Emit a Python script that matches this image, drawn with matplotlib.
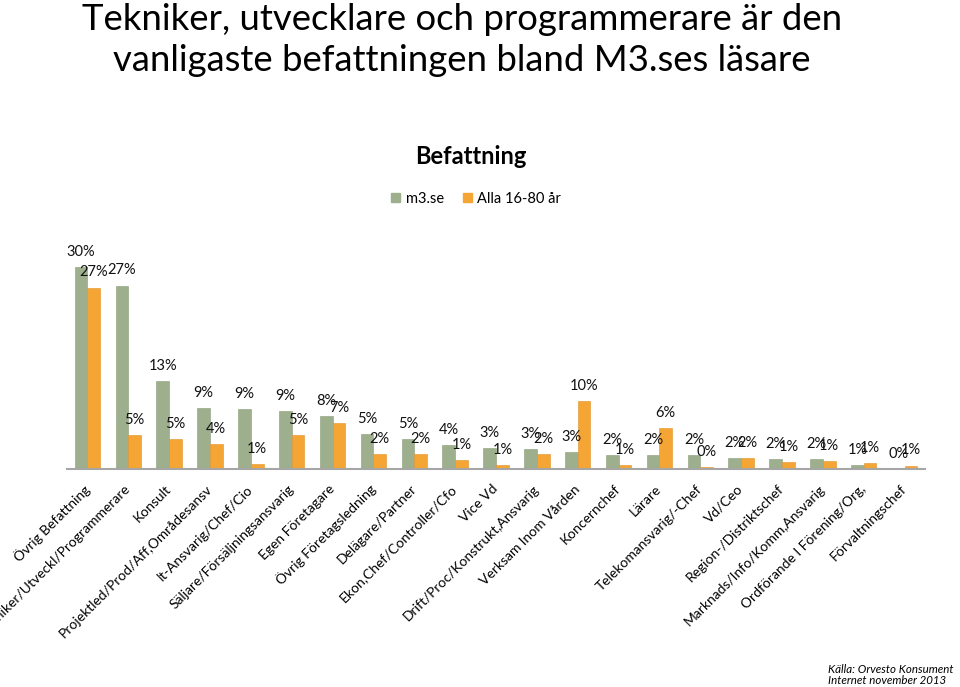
import matplotlib
matplotlib.use("Agg")
import matplotlib.pyplot as plt
import numpy as np
from matplotlib.patches import Patch

plt.rcParams['font.family'] = ['Lato', 'DejaVu Sans']

categories = [
    "Övrig Befattning", "Tekniker/Utveckl/Programmerare", "Konsult",
    "Projektled/Prod/Aff,Områdesansv", "It-Ansvarig/Chef/Cio",
    "Säljare/Försäljningsansvarig", "Egen Företagare", "Övrig Företagsledning",
    "Delägare/Partner", "Ekon,Chef/Controller/Cfo", "Vice Vd",
    "Drift/Proc/Konstrukt,Ansvarig", "Verksam Inom Vården", "Koncernchef",
    "Lärare", "Telekomansvarig/-Chef", "Vd/Ceo", "Region-/Distriktschef",
    "Marknads/Info/Komm,Ansvarig", "Ordförande I Förening/Org,",
    "Förvaltningschef",
]
m3_se = [30.1, 27.4, 13.1, 9.1, 8.9, 8.6, 7.9, 5.2, 4.5, 3.6, 3.1,
         3.0, 2.5, 2.1, 2.1, 2.1, 1.6, 1.5, 1.5, 0.6, 0.0]
alla = [27.1, 5.1, 4.5, 3.7, 0.7, 5.1, 6.8, 2.2, 2.2, 1.3, 0.6,
        2.2, 10.1, 0.6, 6.1, 0.3, 1.6, 1.0, 1.2, 0.9, 0.5]
series_names = ["m3.se", "Alla 16-80 år"]

GREEN = "#9DAF8D"
ORANGE = "#F4A534"

fig = plt.figure(figsize=(9.6, 6.87), dpi=100)
ax = fig.add_axes([67 / 960, 1 - 469 / 687, 858 / 960, 239 / 687])

x = np.arange(len(categories))
w = 0.31
b1 = ax.bar(x - w / 2, m3_se, w, color=GREEN, edgecolor="#8A9C7B", linewidth=0.4)
b2 = ax.bar(x + w / 2, alla, w, color=ORANGE, edgecolor="#E3922A", linewidth=0.4)

def lbl(v):
    return "%d%%" % int(v + 0.5)

for bars, vals in ((b1, m3_se), (b2, alla)):
    for r, v in zip(bars, vals):
        ax.annotate(lbl(v), (r.get_x() + r.get_width() / 2, v),
                    xytext=(0, 6), textcoords="offset points",
                    ha="center", va="bottom", fontsize=10.5, color="#111111")

ax.set_xlim(-0.5, len(categories) - 0.5)
ax.set_ylim(0, 35.7)
for s in ("top", "right", "left"):
    ax.spines[s].set_visible(False)
ax.spines["bottom"].set_color("#A6A6A6")
ax.spines["bottom"].set_linewidth(1.5)
ax.set_yticks([])
ax.set_xticks(x)
ax.set_xticklabels(categories, rotation=45, ha="right", va="center",
                   rotation_mode="anchor", fontsize=10)
ax.tick_params(axis="x", length=0, pad=13)

fig.text(0.481, 0.995, "Tekniker, utvecklare och programmerare är den\nvanligaste befattningen bland M3.ses läsare",
         ha="center", va="top", fontsize=26.3, linespacing=1.27)
fig.text(0.49, 1 - 157 / 687, "Befattning", ha="center", va="center",
         fontsize=17, fontweight="bold")

handles = [Patch(color=GREEN), Patch(color=ORANGE)]
fig.legend(handles, series_names, loc="center", bbox_to_anchor=(0.496, 1 - 199 / 687),
           ncol=2, frameon=False, fontsize=10.5, handlelength=0.6, handleheight=0.6,
           handletextpad=0.4, columnspacing=1.3)

fig.text(0.862, 1 - 675 / 687, "Källa: Orvesto Konsument\nInternet november 2013",
         ha="left", va="center", fontsize=8.3, style="italic", linespacing=1.05)

fig.savefig("out.png", dpi=100)
